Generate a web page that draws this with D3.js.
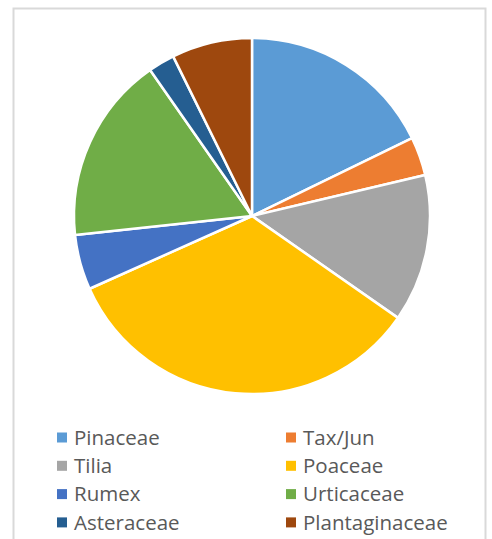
<!DOCTYPE html>
<html>
<head>
<meta charset="utf-8">
<script src="https://cdn.jsdelivr.net/npm/d3@7"></script>
<style>
  body { margin: 0; background: #fff; }
  svg { display: block; }
</style>
</head>
<body>
<svg id="chart"></svg>
<script>
const width = 492;
const height = 539;

// pollen types, share of total (%)
const taxa = ["Pinaceae", "Tax/Jun", "Tilia", "Poaceae", "Rumex", "Urticaceae", "Asteraceae", "Plantaginaceae"];
const shares = [17.8, 3.5, 13.4, 33.6, 5.0, 17.0, 2.4, 7.3];
const colors = ["#5b9bd5", "#ed7d31", "#a5a5a5", "#ffc000", "#4472c4", "#70ad47", "#255e91", "#9e480e"];

const data = taxa.map((name, i) => ({ name, value: shares[i] }));

const cx = 252, cy = 216, radius = 178;

const svg = d3.select("#chart")
  .attr("width", width)
  .attr("height", height);

// chart frame
svg.append("rect")
  .attr("x", 13.5)
  .attr("y", 8.5)
  .attr("width", 472)
  .attr("height", 560)
  .attr("fill", "#fff")
  .attr("stroke", "#d9d9d9")
  .attr("stroke-width", 2);

const color = d3.scaleOrdinal().domain(taxa).range(colors);

const pie = d3.pie()
  .value(d => d.value)
  .sort(null);

const arc = d3.arc()
  .innerRadius(0)
  .outerRadius(radius);

svg.append("g")
  .attr("transform", `translate(${cx},${cy})`)
  .selectAll("path")
  .data(pie(data))
  .join("path")
  .attr("d", arc)
  .attr("fill", d => color(d.data.name))
  .attr("stroke", "#fff")
  .attr("stroke-width", 2.5)
  .attr("stroke-linejoin", "round");

// legend, two columns
const legend = svg.append("g")
  .selectAll("g")
  .data(data)
  .join("g")
  .attr("transform", (d, i) => `translate(${i % 2 ? 286 : 57},${437.5 + Math.floor(i / 2) * 28.3})`);

legend.append("rect")
  .attr("x", 0)
  .attr("y", -5)
  .attr("width", 10)
  .attr("height", 10)
  .attr("fill", d => color(d.name));

legend.append("text")
  .attr("x", 17)
  .attr("y", 0)
  .attr("dy", "0.35em")
  .attr("fill", "#595959")
  .style("font-family", "'Open Sans', sans-serif")
  .style("font-size", "20.5px")
  .text(d => d.name);
</script>
</body>
</html>
